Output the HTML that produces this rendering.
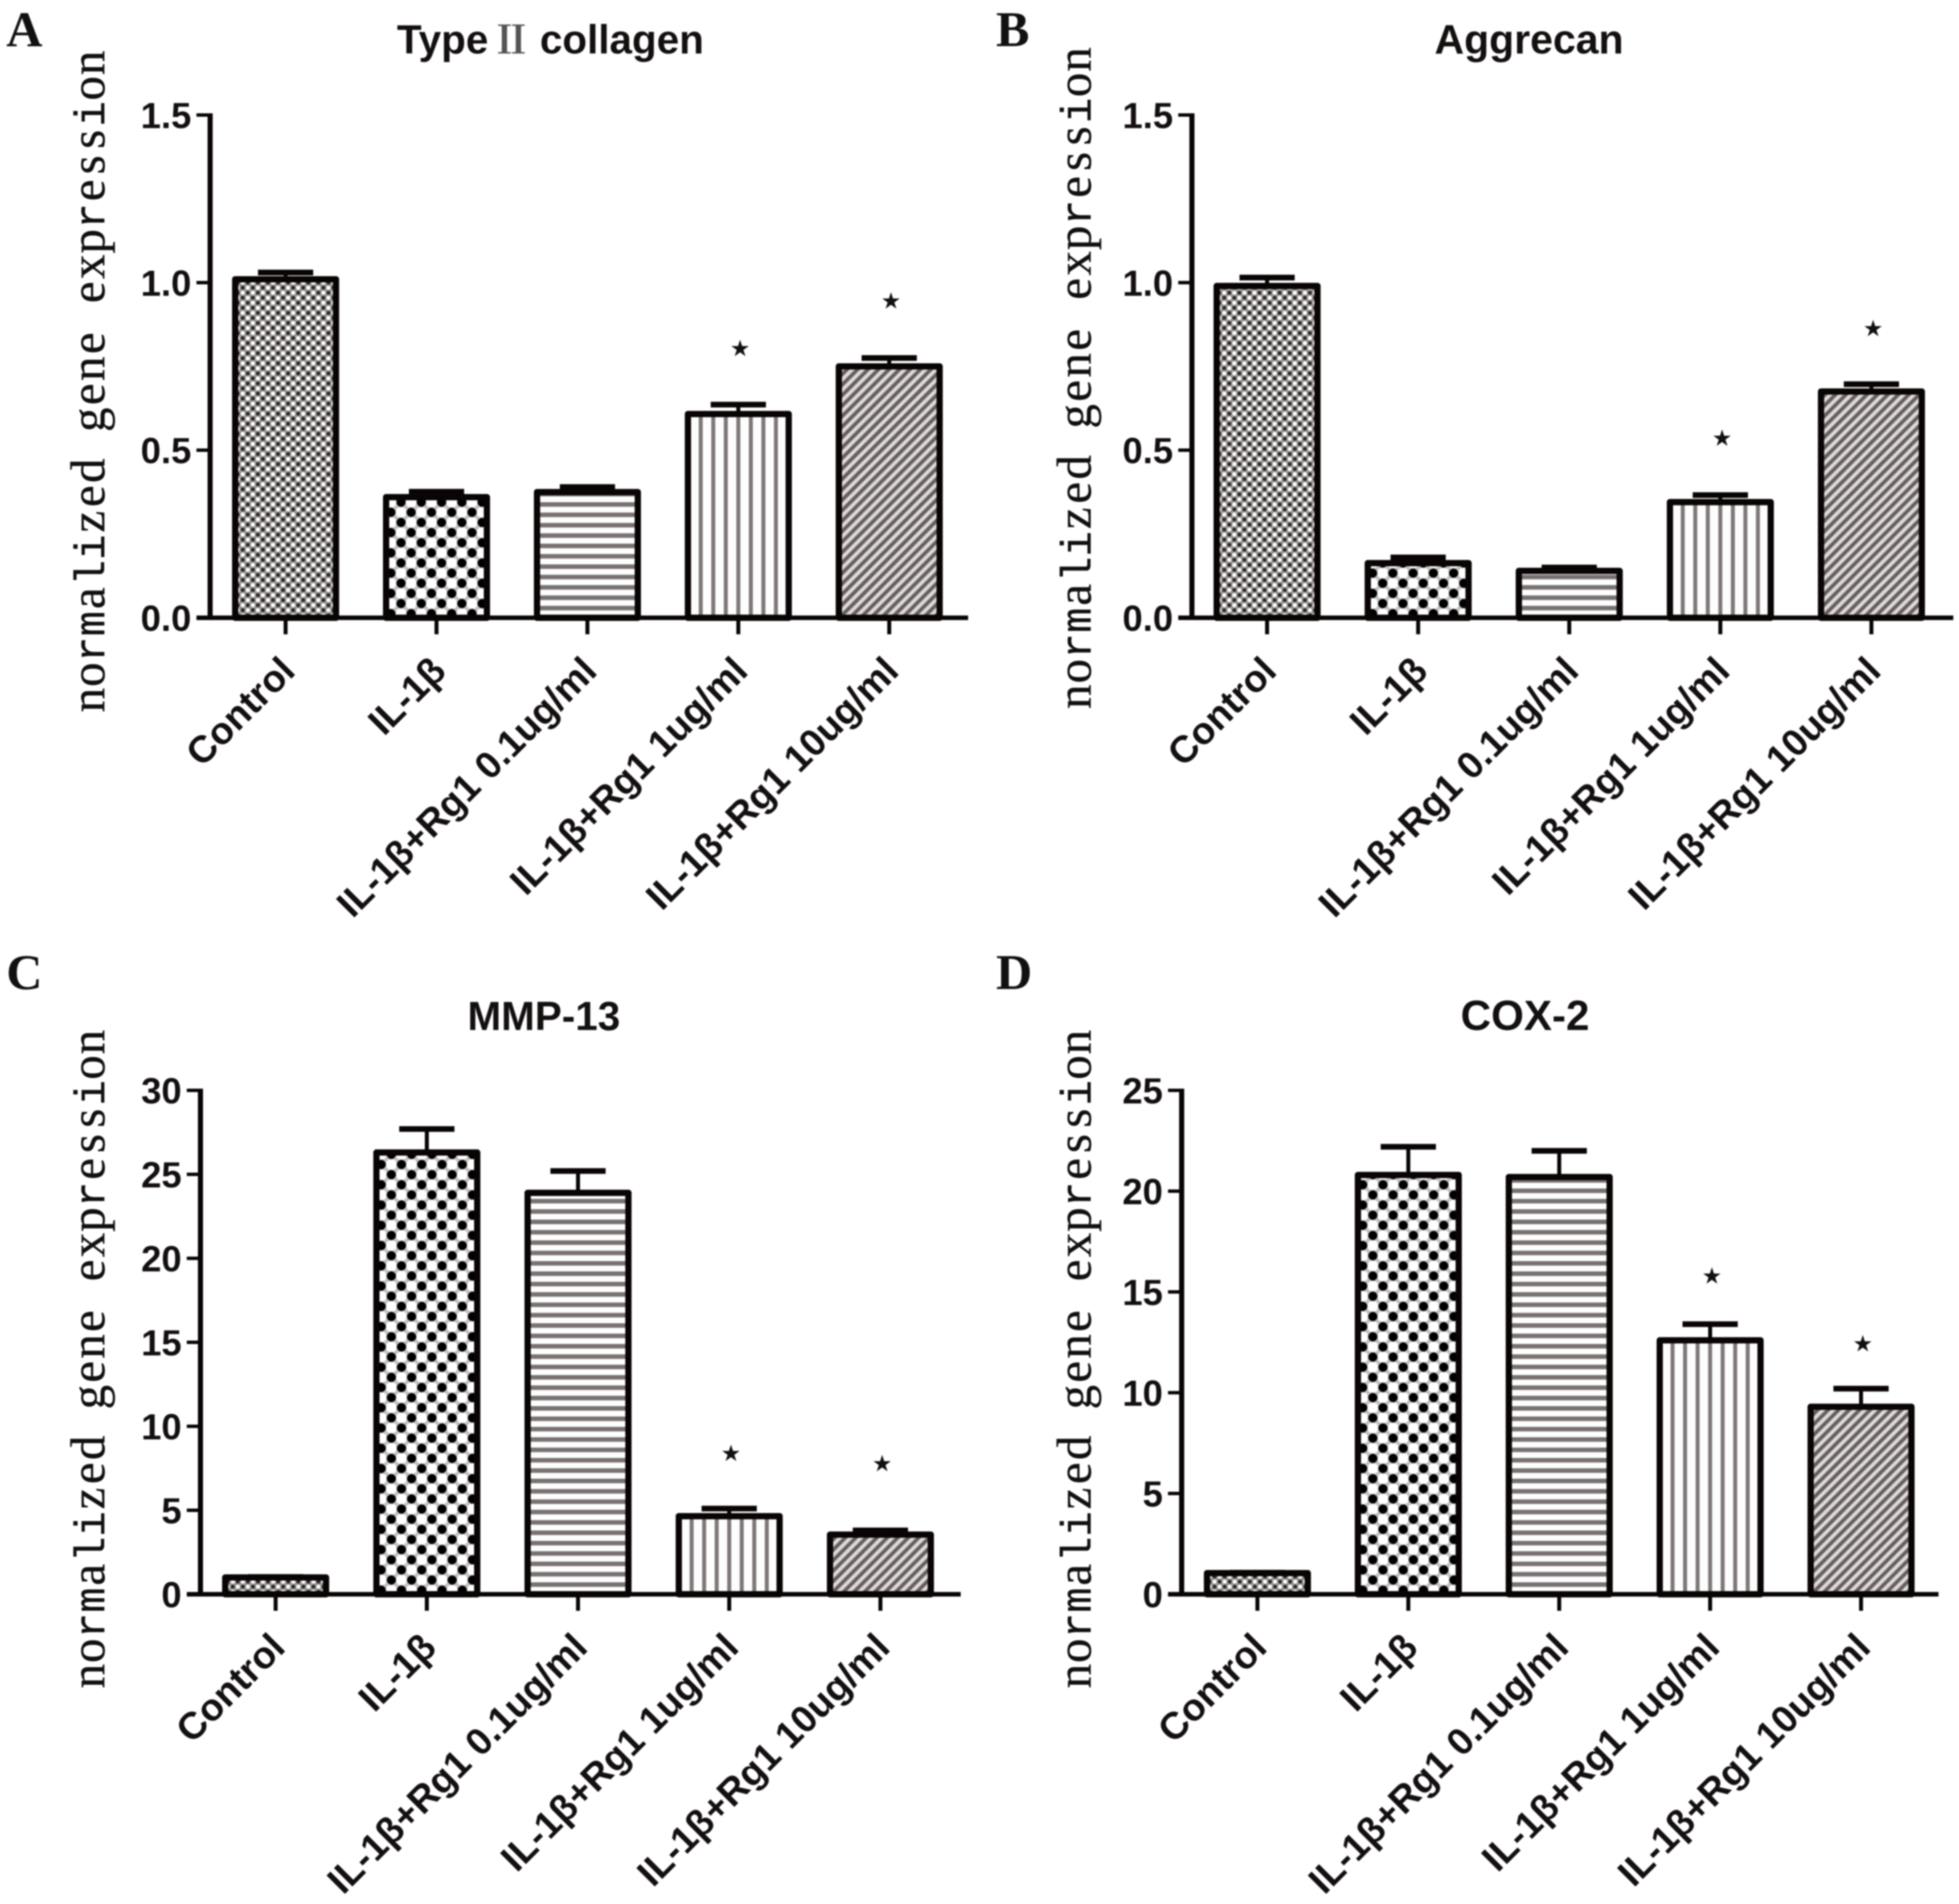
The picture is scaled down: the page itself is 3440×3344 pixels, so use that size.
<!DOCTYPE html>
<html lang="en">
<head>
<meta charset="utf-8">
<title>Gene expression bar charts</title>
<style>
html,body{margin:0;padding:0;background:#fff;}
body{width:3440px;height:3344px;overflow:hidden;}
#figure{display:block;filter:blur(1.3px);}
.title{font-family:"Liberation Sans",sans-serif;font-weight:bold;font-size:71px;fill:#141010;}
.roman{font-family:"Noto Serif CJK SC","Liberation Serif",serif;font-weight:700;font-size:68px;fill:#555;}
.panel-letter{font-family:"Liberation Serif",serif;font-weight:bold;font-size:88px;fill:#111;}
.ylabel{font-family:"Liberation Serif",serif;font-size:86px;fill:#111;stroke:#111;stroke-width:0.6px;}
.ylabel .ym{font-family:"Liberation Mono",monospace;font-size:74px;}
.tick-label{font-family:"Liberation Sans",sans-serif;font-weight:bold;font-size:64px;fill:#141010;text-anchor:end;}
.cat-label{font-family:"Liberation Sans",sans-serif;font-weight:bold;font-size:66.5px;fill:#141010;text-anchor:end;}
.star{font-family:"DejaVu Sans",sans-serif;font-size:40px;fill:#111;text-anchor:middle;}
</style>
</head>
<body>
<svg id="figure" xmlns="http://www.w3.org/2000/svg" width="3440" height="3344" viewBox="0 0 3440 3344">
<defs>
<pattern id="p-fine" patternUnits="userSpaceOnUse" x="0" y="0" width="17.7" height="17.7">
<rect width="17.7" height="17.7" fill="#9a9595"/>
<circle cx="4.4" cy="4.4" r="3.6" fill="#fff"/>
<circle cx="13.3" cy="13.3" r="3.6" fill="#fff"/>
<circle cx="13.3" cy="4.4" r="3.4" fill="#2a2525"/>
<circle cx="4.4" cy="13.3" r="3.4" fill="#2a2525"/>
</pattern>
<pattern id="p-check" patternUnits="userSpaceOnUse" x="0" y="-33.9" width="35.6" height="35.6">
<rect width="35.6" height="35.6" fill="#c4c0c0"/>
<rect x="18" y="0.2" width="17.4" height="17.4" rx="6" fill="#fff"/>
<rect x="0.2" y="18" width="17.4" height="17.4" rx="6" fill="#fff"/>
<circle cx="8.9" cy="8.9" r="8" fill="#000"/>
<circle cx="26.7" cy="26.7" r="8" fill="#000"/>
</pattern>
<pattern id="p-horizontal" patternUnits="userSpaceOnUse" x="0" y="-21" width="18.2" height="18.2">
<rect width="18.2" height="18.2" fill="#fdfdfd"/>
<rect width="18.2" height="8" fill="#7a7272"/>
</pattern>
<pattern id="p-vertical" patternUnits="userSpaceOnUse" x="0" y="0" width="22" height="22">
<rect width="22" height="22" fill="#fdfdfd"/>
<rect x="0" width="3.5" height="22" fill="#7f7878"/>
<rect x="18.5" width="3.5" height="22" fill="#7f7878"/>
</pattern>
<pattern id="p-diagonal" patternUnits="userSpaceOnUse" x="0" y="0" width="13" height="13" patternTransform="rotate(-45)">
<rect width="13" height="13" fill="#dcd8d8"/>
<rect width="13" height="6.5" fill="#686060"/>
</pattern>
</defs>

<rect x="0" y="0" width="3440" height="3344" fill="#ffffff"/>

<text class="panel-letter" x="11" y="81">A</text>
<text class="panel-letter" x="1749" y="81">B</text>
<text class="panel-letter" x="11" y="1737">C</text>
<text class="panel-letter" x="1749" y="1737">D</text>

<text class="title" y="94"><tspan x="697">Type</tspan><tspan class="roman" x="864">Ⅱ</tspan><tspan x="948">collagen</tspan></text>
<text class="title" x="2685" y="94" text-anchor="middle" style="font-size:72px">Aggrecan</text>
<text class="title" x="955" y="1809" text-anchor="middle">MMP-13</text>
<text class="title" x="2678" y="1809" text-anchor="middle" style="font-size:74px">COX-2</text>

<text id="ytitle-a" class="ylabel" transform="translate(183,1252) rotate(-90)">no<tspan class="ym">rm</tspan>a<tspan class="ym">li</tspan>zed gene exp<tspan class="ym">r</tspan>ess<tspan class="ym">i</tspan>on</text>
<text id="ytitle-b" class="ylabel" transform="translate(1915,1246) rotate(-90)">no<tspan class="ym">rm</tspan>a<tspan class="ym">li</tspan>zed gene exp<tspan class="ym">r</tspan>ess<tspan class="ym">i</tspan>on</text>
<text id="ytitle-c" class="ylabel" transform="translate(183,2966) rotate(-90)">no<tspan class="ym">rm</tspan>a<tspan class="ym">li</tspan>zed gene exp<tspan class="ym">r</tspan>ess<tspan class="ym">i</tspan>on</text>
<text id="ytitle-d" class="ylabel" transform="translate(1915,2966) rotate(-90)">no<tspan class="ym">rm</tspan>a<tspan class="ym">li</tspan>zed gene exp<tspan class="ym">r</tspan>ess<tspan class="ym">i</tspan>on</text>

<g id="panel-a"></g>
<g id="panel-b"></g>
<g id="panel-c"></g>
<g id="panel-d"></g>
</svg>

<script>
const categories = ['Control', 'IL-1β', 'IL-1β+Rg1 0.1ug/ml', 'IL-1β+Rg1 1ug/ml', 'IL-1β+Rg1 10ug/ml'];

const collagenValues = [1.01, 0.36, 0.375, 0.608, 0.75];
const collagenErrorTops = [1.03, 0.376, 0.39, 0.636, 0.775];
const collagenStars = [null, null, null, 0.804, 0.946];
const collagenTicks = [0, 0.5, 1.0, 1.5];
const collagenTickLabels = ['0.0', '0.5', '1.0', '1.5'];

const aggrecanValues = [0.99, 0.163, 0.14, 0.345, 0.675];
const aggrecanErrorTops = [1.015, 0.18, 0.15, 0.366, 0.697];
const aggrecanStars = [null, null, null, 0.537, 0.864];
const aggrecanTicks = [0, 0.5, 1.0, 1.5];
const aggrecanTickLabels = ['0.0', '0.5', '1.0', '1.5'];

const mmpValues = [1.0, 26.3, 23.9, 4.65, 3.55];
const mmpErrorTops = [1.03, 27.7, 25.2, 5.1, 3.8];
const mmpStars = [null, null, null, 8.4, 7.8];
const mmpTicks = [0, 5, 10, 15, 20, 25, 30];
const mmpTickLabels = ['0', '5', '10', '15', '20', '25', '30'];

const coxValues = [1.05, 20.8, 20.7, 12.6, 9.3];
const coxErrorTops = [1.07, 22.2, 22.0, 13.4, 10.2];
const coxStars = [null, null, null, 15.8, 12.45];
const coxTicks = [0, 5, 10, 15, 20, 25];
const coxTickLabels = ['0', '5', '10', '15', '20', '25'];

const fills = ['p-fine', 'p-check', 'p-horizontal', 'p-vertical', 'p-diagonal'];
const INK = '#0a0505';
const NS = 'http://www.w3.org/2000/svg';

function svgEl(tag, attrs) {
  const el = document.createElementNS(NS, tag);
  for (const k in attrs) el.setAttribute(k, attrs[k]);
  return el;
}

function spaceTitle(id, advance) {
  const t = document.getElementById(id);
  const n = t.getNumberOfChars();
  const xs = [];
  for (let i = 0; i < n; i++) {
    const w = t.getSubStringLength(i, 1);
    xs.push((i * advance + (advance - w) / 2).toFixed(1));
  }
  t.setAttribute('x', xs.join(' '));
}

function drawPanel(opts) {
  const root = document.getElementById(opts.id);
  const maxTick = opts.ticks[opts.ticks.length - 1];
  const yScale = v => opts.y0 - (v / maxTick) * (opts.y0 - opts.yTop);
  const xScale = i => opts.firstCenter + i * opts.step;
  const barW = 177;
  const capW = 97;

  opts.values.forEach((v, i) => {
    const cx = xScale(i);
    const top = yScale(v);
    const errTop = yScale(opts.errorTops[i]);

    const stem = svgEl('line', {x1: cx, x2: cx, y1: top, y2: errTop, stroke: INK, 'stroke-width': 7});
    
    
    root.appendChild(stem);

    const cap = svgEl('line', {x1: cx - capW / 2, x2: cx + capW / 2, y1: errTop, y2: errTop, stroke: INK, 'stroke-width': 10});
    
    
    root.appendChild(cap);

    const barGroup = svgEl('g', {transform: 'translate(' + cx + ',' + opts.y0 + ')'});
    
    
    const bar = svgEl('rect', {
      x: -barW / 2, y: top - opts.y0, width: barW, height: opts.y0 - top,
      fill: 'url(#' + fills[i] + ')', stroke: INK, 'stroke-width': 11, 'stroke-linejoin': 'round'
    });
    
    
    barGroup.appendChild(bar);
    root.appendChild(barGroup);

    if (opts.stars[i] !== null) {
      const star = svgEl('text', {x: cx + 3, y: yScale(opts.stars[i]) + 14, class: 'star'});
      star.textContent = '★';
      
      
      root.appendChild(star);
    }

    const xTick = svgEl('line', {x1: cx, x2: cx, y1: opts.y0, y2: opts.y0 + 29, stroke: INK, 'stroke-width': 7});
    
    
    root.appendChild(xTick);

    const lx = cx + 20;
    const ly = opts.y0 + 97;
    const label = svgEl('text', {class: 'cat-label', transform: 'translate(' + lx + ',' + ly + ') rotate(-45)'});
    label.textContent = categories[i];
    
    
    root.appendChild(label);
  });

  const yAxis = svgEl('line', {x1: opts.axisX, x2: opts.axisX, y1: opts.yTop - 3, y2: opts.y0 + 4, stroke: INK, 'stroke-width': 9});
  
  
  root.appendChild(yAxis);

  const xAxis = svgEl('line', {x1: opts.axisX - 24, x2: opts.axisEnd, y1: opts.y0, y2: opts.y0, stroke: INK, 'stroke-width': 8});
  
  
  root.appendChild(xAxis);

  opts.ticks.forEach((t, i) => {
    const y = yScale(t);
    const tick = svgEl('line', {x1: opts.axisX - 24, x2: opts.axisX, y1: y, y2: y, stroke: INK, 'stroke-width': 6});
    
    
    root.appendChild(tick);

    const label = svgEl('text', {class: 'tick-label', x: opts.axisX - 33, y: y + 23});
    label.textContent = opts.tickLabels[i];
    
    
    root.appendChild(label);
  });
}

spaceTitle('ytitle-a', 44.77);
spaceTitle('ytitle-b', 44.77);
spaceTitle('ytitle-c', 44.54);
spaceTitle('ytitle-d', 44.54);

drawPanel({id: 'panel-a', values: collagenValues, errorTops: collagenErrorTops, stars: collagenStars, ticks: collagenTicks, tickLabels: collagenTickLabels,
  axisX: 369, y0: 1085, yTop: 202, firstCenter: 501.5, step: 265, axisEnd: 1700});
drawPanel({id: 'panel-b', values: aggrecanValues, errorTops: aggrecanErrorTops, stars: aggrecanStars, ticks: aggrecanTicks, tickLabels: aggrecanTickLabels,
  axisX: 2093, y0: 1085, yTop: 202, firstCenter: 2225, step: 265.3, axisEnd: 3430});
drawPanel({id: 'panel-c', values: mmpValues, errorTops: mmpErrorTops, stars: mmpStars, ticks: mmpTicks, tickLabels: mmpTickLabels,
  axisX: 352, y0: 2800, yTop: 1915, firstCenter: 484, step: 265.5, axisEnd: 1687});
drawPanel({id: 'panel-d', values: coxValues, errorTops: coxErrorTops, stars: coxStars, ticks: coxTicks, tickLabels: coxTickLabels,
  axisX: 2075, y0: 2800, yTop: 1915, firstCenter: 2208, step: 265, axisEnd: 3404});
</script>
</body>
</html>
